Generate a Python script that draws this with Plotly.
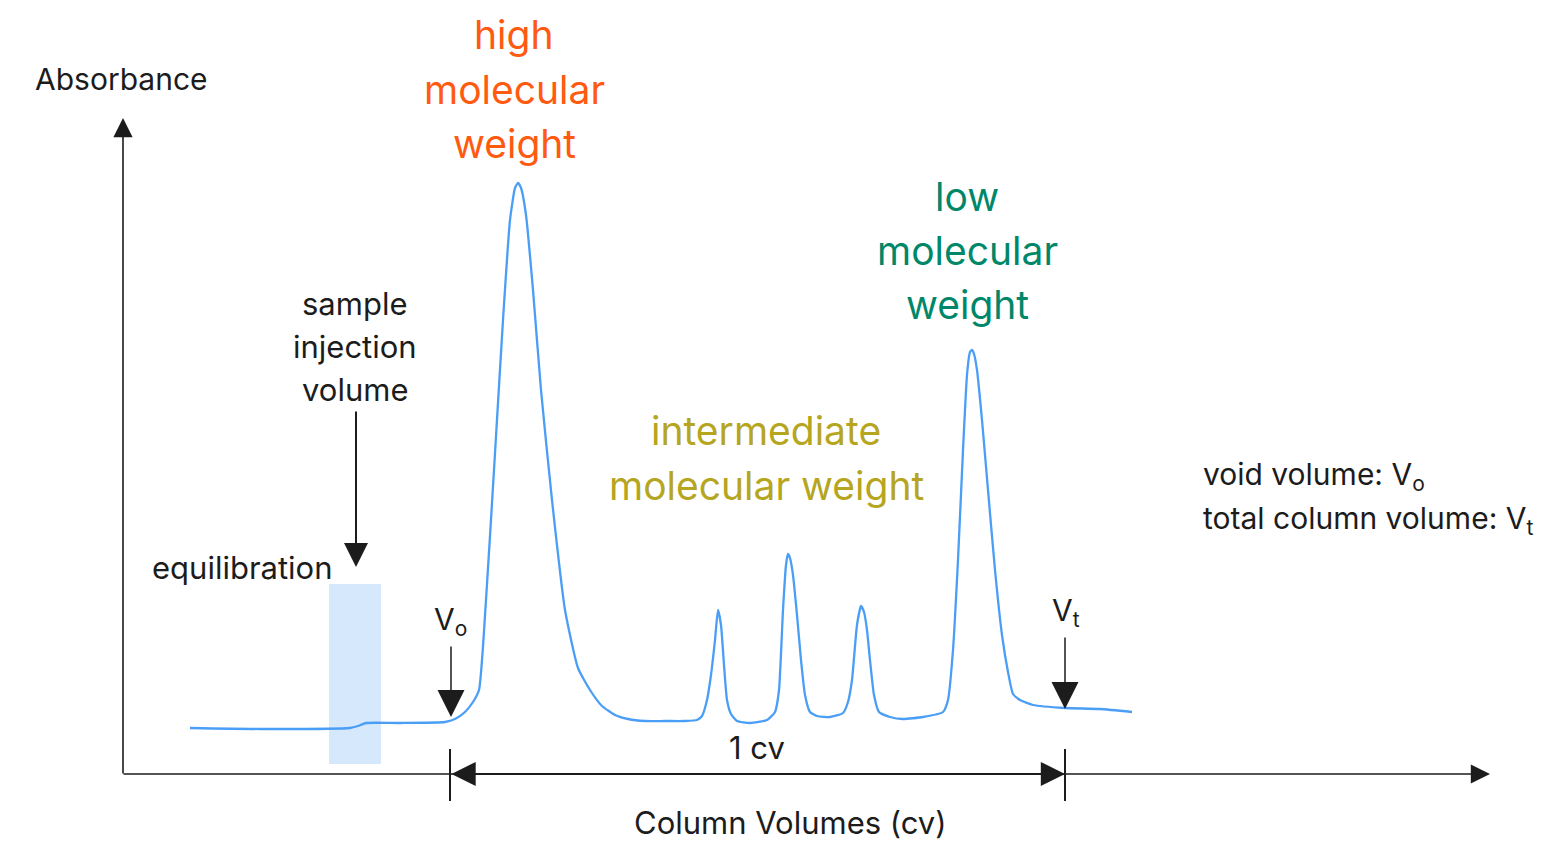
import plotly.graph_objects as go

# Chromatogram trace (x: horizontal position along run, y: vertical level; axis reversed)
curve_x = [190, 260, 350, 358, 366, 400, 445, 455, 465, 473, 479, 486, 494, 503, 510, 515, 518, 521, 526, 533, 541, 552, 565, 578,
           590, 602, 615, 628, 645, 665, 685, 697,
           702, 707, 711, 715, 718, 721, 724, 727, 731, 737, 750, 767, 775, 779, 783, 786, 788, 790, 793, 797, 801, 805, 810,
           817, 830, 843, 848, 852, 857, 861, 864, 867, 870, 874, 879, 890, 903, 923, 943,
           948, 953, 958, 963, 967, 970, 972, 974, 977, 982, 988, 995, 1002, 1008, 1013, 1020, 1033, 1065, 1100, 1132]
curve_y = [728, 729, 728, 726, 723, 723, 722, 719, 712, 702, 690, 600, 470, 320, 220, 188, 183, 188, 215, 290, 390, 500, 610, 668,
           690, 706, 715, 719, 721, 721, 721, 720,
           716, 700, 675, 640, 610, 625, 665, 700, 714, 721, 723, 720, 712, 690, 610, 565, 554, 558, 575, 615, 660, 695, 712,
           716, 717, 713, 702, 680, 625, 606, 612, 630, 660, 695, 712, 717, 719, 717, 712,
           700, 650, 560, 450, 375, 352, 350, 354, 370, 420, 490, 570, 635, 672, 694, 700, 705, 708, 709, 712]

# Sample injection band
band_x = [329, 381]
band_y = [584, 764]

# Text labels
high_lines = ["high", "molecular", "weight"]
high_y = [34, 89, 143]
low_lines = ["low", "molecular", "weight"]
low_y = [196, 250, 304]
inter_lines = ["intermediate", "molecular weight"]
inter_y = [430, 485]
inj_lines = ["sample", "injection", "volume"]
inj_y = [303, 346, 389]

FONT = "Inter, Roboto, sans-serif"
BLACK = "#1c1c1c"
ORANGE = "#ff5a10"
GREEN = "#00876a"
OLIVE = "#b6a51e"
BLUE = "#4a9ef5"

PAGE_OFFSET = 8  # browser body margin

fig = go.Figure()

fig.add_shape(type="rect", x0=band_x[0], x1=band_x[1], y0=band_y[0], y1=band_y[1],
              fillcolor="#d6e8fb", line_width=0, layer="below")

fig.add_trace(go.Scatter(x=curve_x, y=curve_y, mode="lines",
                         line=dict(color=BLUE, width=2.3, shape="spline", smoothing=0.5),
                         hoverinfo="skip", showlegend=False))

anns = []

def arrow(x, y, ax, ay, width=1.5, size=2.0, side="end", head=2):
    anns.append(dict(x=x, y=y, ax=ax, ay=ay, xref="x", yref="y", axref="x", ayref="y",
                     showarrow=True, arrowhead=head, startarrowhead=head,
                     arrowsize=size, startarrowsize=size, arrowwidth=width,
                     arrowcolor=BLACK, arrowside=side, text=""))

def text(x, y, t, size=30, color=BLACK, xanchor="center"):
    anns.append(dict(x=x, y=y, xref="x", yref="y", text=t, showarrow=False,
                     font=dict(family=FONT, size=size, color=color),
                     xanchor=xanchor, yanchor="middle"))

# axes
arrow(123, 118, 123, 775, width=1.6, size=2.4)
arrow(1490, 774, 122, 774, width=1.6, size=2.4)
# 1 cv double arrow
arrow(1065, 774, 450, 774, width=2.2, size=2.2, side="end+start")
fig.add_shape(type="line", x0=450, x1=450, y0=749, y1=801, line=dict(color=BLACK, width=2))
fig.add_shape(type="line", x0=1065, x1=1065, y0=749, y1=801, line=dict(color=BLACK, width=2))
# markers
arrow(451, 717, 451, 645, width=1.5, size=3.6)
arrow(1065, 709, 1065, 636, width=1.5, size=3.6)
arrow(356, 567, 356, 410, width=2, size=2.4)

text(33, 79, "Absorbance", size=30, xanchor="left")
for t, y in zip(high_lines, high_y):
    text(514, y, t, size=39, color=ORANGE)
for t, y in zip(low_lines, low_y):
    text(967, y, t, size=39, color=GREEN)
for t, y in zip(inter_lines, inter_y):
    text(766, y, t, size=39, color=OLIVE)
for t, y in zip(inj_lines, inj_y):
    text(355, y, t, size=31)
text(150, 567, "equilibration", size=31, xanchor="left")
text(757, 747, "1 cv", size=31)
text(790, 822, "Column Volumes (cv)", size=31)
text(450, 621, "V<sub>o</sub>", size=30)
text(1066, 612, "V<sub>t</sub>", size=30)
text(1201, 476, "void volume: V<sub>o</sub>", size=30, xanchor="left")
text(1201, 520, "total column volume: V<sub>t</sub>", size=30, xanchor="left")

fig.update_layout(
    width=1553, height=842,
    margin=dict(l=0, r=0, t=0, b=0),
    paper_bgcolor="white", plot_bgcolor="white",
    xaxis=dict(range=[PAGE_OFFSET, 1553 + PAGE_OFFSET], visible=False, fixedrange=True),
    yaxis=dict(range=[842 + PAGE_OFFSET, PAGE_OFFSET], visible=False, fixedrange=True),
    annotations=anns,
    showlegend=False,
)

fig.write_html("out.html")
